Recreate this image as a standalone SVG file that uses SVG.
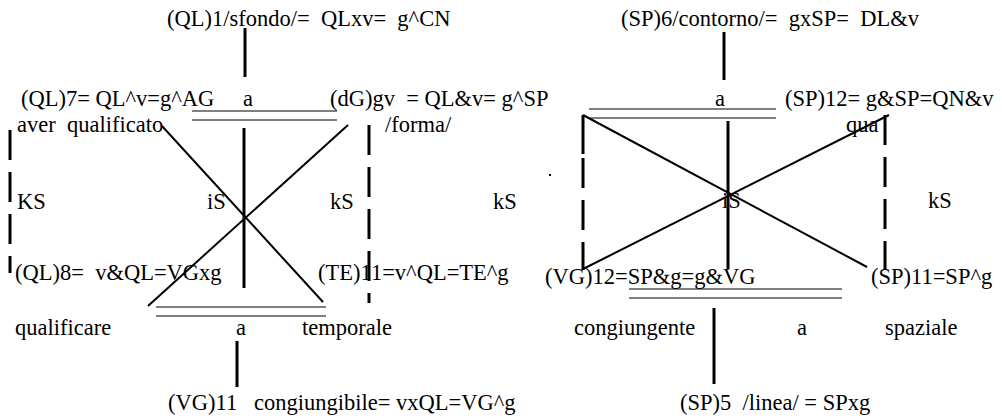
<svg xmlns="http://www.w3.org/2000/svg" width="1002" height="419" viewBox="0 0 1002 419">
<style>
text{font-family:"Liberation Serif","Times New Roman",serif;font-size:22.5px;fill:#000;white-space:pre}
.thick{stroke:#000;stroke-width:3;fill:none}
.diag{stroke:#000;stroke-width:2;fill:none}
.thin{stroke:#000;stroke-width:1;fill:none}
.dash{stroke:#000;stroke-width:3;fill:none;stroke-dasharray:30 12}
</style>
<rect width="1002" height="419" fill="#fff"/>
<g id="connectors">
<line class="thick" x1="245" y1="28" x2="245" y2="77"/>
<line class="thin" x1="192" y1="111" x2="337" y2="111"/>
<line class="thin" x1="192" y1="120" x2="337" y2="120"/>
<line class="thick" x1="244" y1="128" x2="244" y2="288"/>
<line class="diag" x1="162" y1="126" x2="323" y2="302"/>
<line class="diag" x1="348" y1="125" x2="148" y2="306"/>
<line class="dash" x1="10" y1="130" x2="10" y2="273"/>
<line class="dash" x1="369" y1="125" x2="369" y2="303"/>
<line class="thin" x1="156" y1="307" x2="326" y2="307"/>
<line class="thin" x1="156" y1="316" x2="326" y2="316"/>
<line class="thick" x1="237" y1="341" x2="237" y2="387"/>
<line class="thick" x1="724" y1="32" x2="724" y2="80"/>
<line class="thin" x1="589" y1="109" x2="776" y2="109"/>
<line class="thin" x1="589" y1="118" x2="776" y2="118"/>
<line class="thick" x1="728" y1="121" x2="728" y2="269"/>
<line class="diag" x1="583" y1="115" x2="867" y2="267"/>
<line class="diag" x1="583" y1="269" x2="889" y2="115"/>
<line class="thick" x1="583" y1="115" x2="583" y2="154"/>
<line class="dash" x1="583" y1="158" x2="583" y2="270"/>
<line class="dash" x1="885" y1="115" x2="885" y2="270"/>
<line class="thin" x1="629" y1="289" x2="842" y2="289"/>
<line class="thin" x1="629" y1="298" x2="842" y2="298"/>
<line class="thick" x1="714" y1="308" x2="714" y2="384"/>
<rect x="549" y="174" width="2" height="2" fill="#000"/>
</g>
<g id="n-sfondo"><text x="167" y="26">(QL)1/sfondo/=  QLxv=  g^CN</text></g>
<g id="n-ql7"><text x="21" y="106">(QL)7= QL^v=g^AG</text><text x="243" y="106">a</text></g>
<g id="n-dg"><text x="330" y="106">(dG)gv  = QL&amp;v= g^SP</text></g>
<g id="n-aver"><text x="17" y="132">aver  qualificato</text></g>
<g id="n-forma"><text x="385" y="132">/forma/</text></g>
<g id="n-ks-left"><text x="17" y="209">KS</text><text x="207" y="209">iS</text><text x="330" y="209">kS</text><text x="493" y="209">kS</text></g>
<g id="n-ql8"><text x="15" y="280">(QL)8=  v&amp;QL=VGxg</text></g>
<g id="n-te11"><text x="318" y="280">(TE)11=v^QL=TE^g</text></g>
<g id="n-qual"><text x="15" y="335">qualificare</text><text x="236" y="335">a</text><text x="302" y="335">temporale</text></g>
<g id="n-vg11"><text x="168" y="410">(VG)11   congiungibile= vxQL=VG^g</text></g>
<g id="n-contorno"><text x="621" y="26">(SP)6/contorno/=  gxSP=  DL&amp;v</text></g>
<g id="n-sp12"><text x="715" y="106">a</text><text x="785" y="106">(SP)12= g&amp;SP=QN&amp;v</text></g>
<g id="n-qua"><text x="846" y="132">qua</text></g>
<g id="n-ks-right"><text x="722" y="208">iS</text><text x="928" y="208">kS</text></g>
<g id="n-vg12"><text x="545" y="284">(VG)12=SP&amp;g=g&amp;VG</text></g>
<g id="n-sp11"><text x="871" y="284">(SP)11=SP^g</text></g>
<g id="n-cong"><text x="574" y="335">congiungente</text><text x="797" y="335">a</text><text x="885" y="335">spaziale</text></g>
<g id="n-sp5"><text x="680" y="410">(SP)5  /linea/ = SPxg</text></g>
</svg>
